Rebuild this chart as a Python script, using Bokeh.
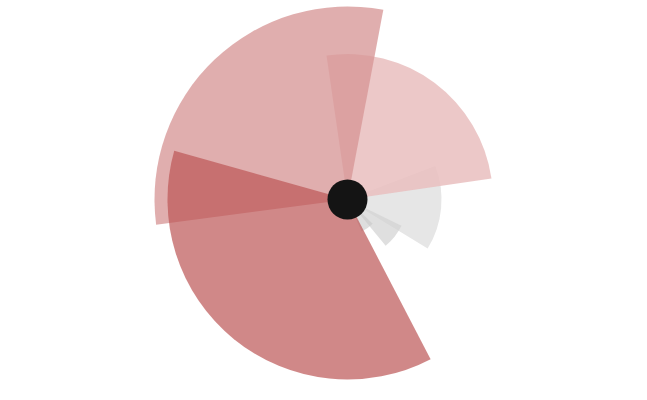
from bokeh.plotting import figure
from bokeh.models import ColumnDataSource, Range1d
from bokeh.embed import file_html
from bokeh.resources import INLINE

# Wedge data (degrees, radius in data units), listed in drawing order
start_deg = [-31.5, -50.5, -66.0, 8.3, 79.3, 164.3]
end_deg = [20.9, -26.0, -44.0, 98.3, 187.5, 297.5]
radius = [94, 60, 35, 145.5, 193, 180]

# styles
colors = ["#e6e6e6", "#d2d2d2", "#c8c8c8", "#e9bebe", "#d79696", "#bc5555"]
alphas = [1.0, 0.7, 0.6, 0.85, 0.77, 0.7]

W, H = 631, 384
cx_px, cy_px = 347, 199

p = figure(width=W, height=H, output_backend="svg", toolbar_location=None,
           x_range=Range1d(-cx_px, W - cx_px), y_range=Range1d(-(H - cy_px), cy_px),
           min_border=0)
p.axis.visible = False
p.grid.visible = False
p.outline_line_color = None
p.background_fill_color = "white"
p.border_fill_color = "white"

src = ColumnDataSource(dict(x=[0] * len(radius), y=[0] * len(radius),
                            r=radius, s=start_deg, e=end_deg,
                            c=colors, a=alphas))
p.wedge(x="x", y="y", radius="r", start_angle="s", end_angle="e",
        start_angle_units="deg", end_angle_units="deg",
        fill_color="c", fill_alpha="a", line_color=None, source=src)

p.scatter(x=[0], y=[0], size=40, fill_color="#141414", line_color=None)

open("out.html", "w").write(file_html(p, INLINE))
